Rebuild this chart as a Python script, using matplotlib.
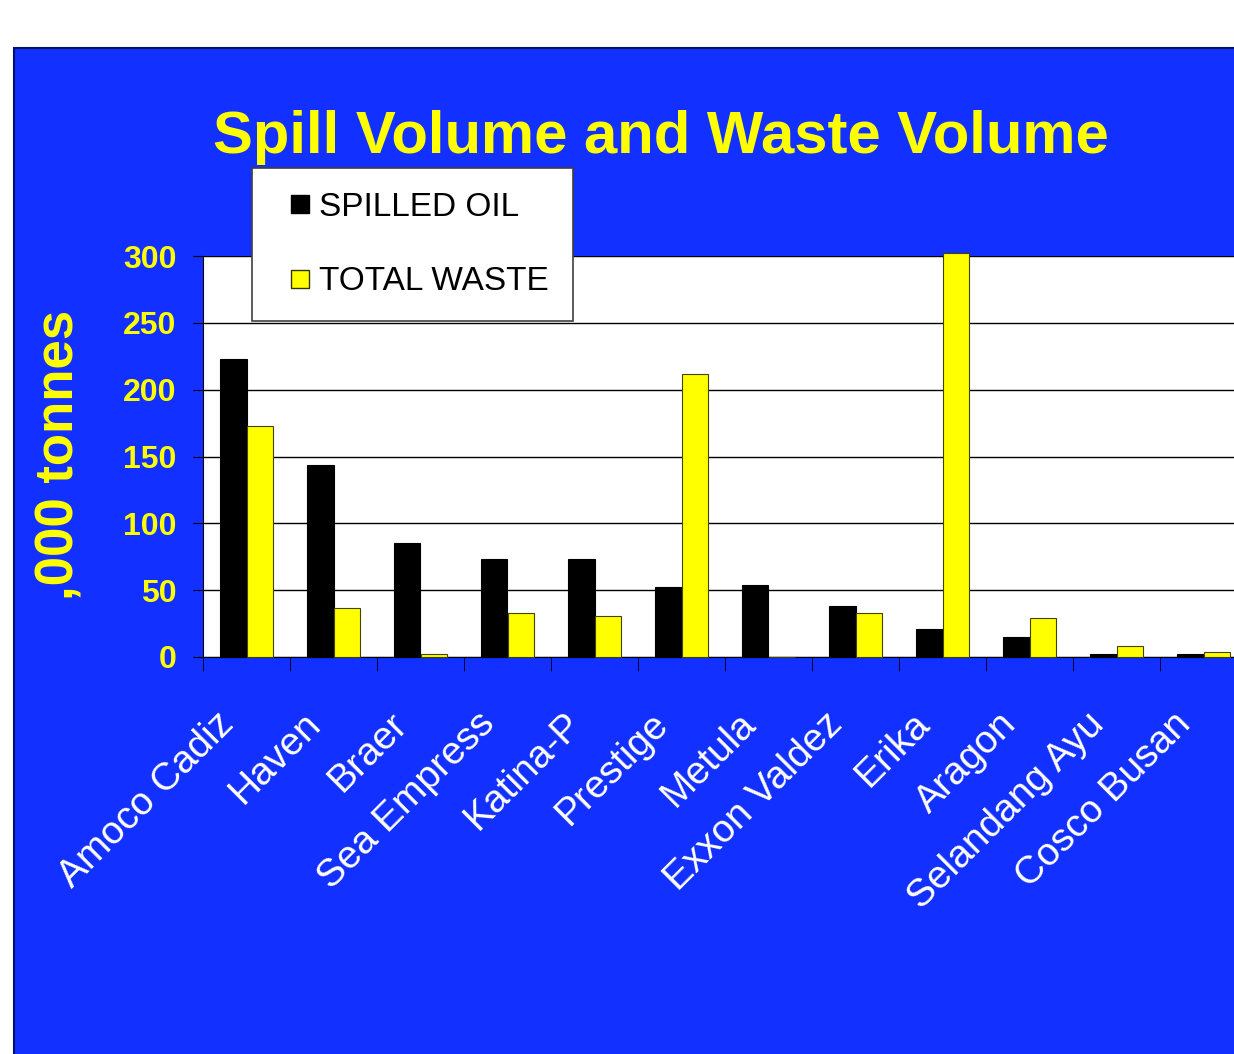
import numpy as np
import matplotlib
matplotlib.use('Agg')
import matplotlib.pyplot as plt
from matplotlib.patches import Rectangle
from matplotlib.lines import Line2D
from matplotlib.transforms import ScaledTranslation

plt.rcParams['font.family'] = ['Liberation Sans', 'DejaVu Sans']

ships = ['Amoco Cadiz', 'Haven', 'Braer', 'Sea Empress', 'Katina-P', 'Prestige',
         'Metula', 'Exxon Valdez', 'Erika', 'Aragon', 'Selandang Ayu', 'Cosco Busan']
spilled_oil = [223, 144, 85, 73, 73, 52, 54, 38, 21, 15, 2, 2]
total_waste = [173, 37, 2, 33, 31, 212, 0, 33, 302, 29, 8, 4]
yticks = [0, 50, 100, 150, 200, 250, 300]

blue = '#1230FF'
W, H = 1234, 1054
fig = plt.figure(figsize=(W / 100, H / 100), dpi=100, facecolor='white')

# blue slide panel
fig.patches.append(Rectangle((14 / W, -0.01), 1.0, (H - 48) / H + 0.01, transform=fig.transFigure,
                             facecolor=blue, edgecolor='#001070', lw=1.5, zorder=-5))

ax = fig.add_axes([203 / W, (H - 657) / H, 12 * 87 / W, 401 / H])
ax.set_facecolor('white')

x = np.arange(len(ships))
bw = 0.3
ax.bar(x - bw / 2, spilled_oil, bw, color='black', edgecolor='black', lw=0.8, clip_on=False, zorder=3)
ax.bar(x + bw / 2, total_waste, bw, color='#FFFF00', edgecolor='#444400', lw=0.8, clip_on=False, zorder=3)

ax.set_xlim(-0.5, len(ships) - 0.5)
ax.set_ylim(0, 300)
ax.set_yticks(yticks)
ax.set_yticklabels([str(v) for v in yticks], color='#FFFF00', fontsize=23, fontweight='bold')
ax.grid(axis='y', color='black', lw=1)
ax.set_axisbelow(True)

for s in ['top', 'right']:
    ax.spines[s].set_visible(False)
ax.spines['left'].set_color('black')
ax.spines['bottom'].set_color('black')

ax.set_xticks(x)
ax.set_xticks(np.arange(-0.5, len(ships), 1), minor=True)
ax.tick_params(axis='x', which='major', length=0, pad=30)
ax.tick_params(axis='x', which='minor', length=10, direction='out', color='black')
ax.tick_params(axis='y', length=7, direction='out', color='black', pad=12)
ax.set_xticklabels(ships, rotation=45, ha='right', va='top', rotation_mode='anchor',
                   color='white', fontsize=28)
for lab in ax.get_xticklabels():
    lab.set_transform(lab.get_transform() + ScaledTranslation(-0.31, -0.07, fig.dpi_scale_trans))

fig.text(661 / W, 1 - 138 / H, 'Spill Volume and Waste Volume', ha='center', va='center',
         color='#FFFF00', fontsize=43, fontweight='bold')
fig.text(60 / W, 1 - 455 / H, ',000 tonnes', rotation=90, ha='center', va='center',
         color='#FFFF00', fontsize=38, fontweight='bold')

handles = [Line2D([], [], ls='none', marker='s', markersize=13,
                  markerfacecolor='black', markeredgecolor='black'),
           Line2D([], [], ls='none', marker='s', markersize=13,
                  markerfacecolor='#FFFF00', markeredgecolor='#333300')]
leg = fig.legend(handles, ['SPILLED OIL', 'TOTAL WASTE'], loc='upper left',
                 bbox_to_anchor=(252 / W, 1 - 168 / H), bbox_transform=fig.transFigure,
                 fontsize=24, frameon=True, fancybox=False, framealpha=1,
                 handlelength=1.45, handletextpad=-0.15,
                 labelspacing=1.3, borderpad=0.72, borderaxespad=0)
leg.get_frame().set_edgecolor('#404040')
leg.get_frame().set_linewidth(1.2)
leg.set_zorder(10)

fig.savefig('out.png', dpi=100)
